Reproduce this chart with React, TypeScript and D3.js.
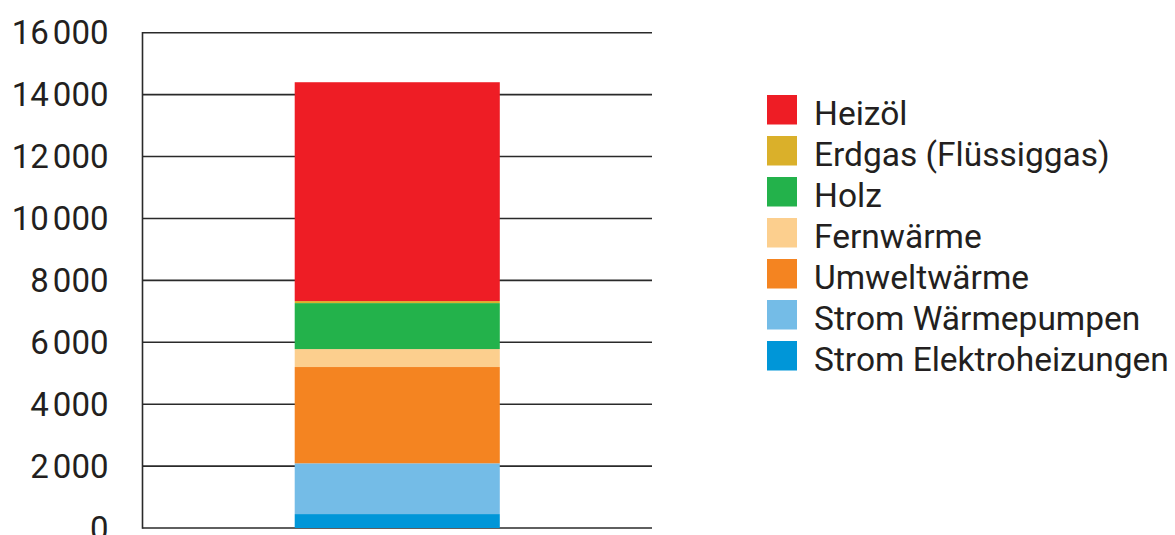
import { useRef, useEffect } from "react";
import * as d3 from "d3";

// one stacked bar, bottom -> top
const categories = ["Total"];
const seriesNames = [
  "Strom Elektroheizungen",
  "Strom Wärmepumpen",
  "Umweltwärme",
  "Fernwärme",
  "Holz",
  "Erdgas (Flüssiggas)",
  "Heizöl",
];
const seriesValues = [450, 1640, 3110, 580, 1485, 65, 7070];
const seriesColors = [
  "#0096d8",
  "#74bce7",
  "#f48421",
  "#fccf8e",
  "#23b24b",
  "#dab02a",
  "#ee1d25",
];
// legend runs top -> bottom
const legendOrder = [
  "Heizöl",
  "Erdgas (Flüssiggas)",
  "Holz",
  "Fernwärme",
  "Umweltwärme",
  "Strom Wärmepumpen",
  "Strom Elektroheizungen",
];
const yTicks = [0, 2000, 4000, 6000, 8000, 10000, 12000, 14000, 16000];

export default function App() {
  const svgRef = useRef<SVGSVGElement>(null);

  useEffect(() => {
    if (!svgRef.current) return;
    const svg = d3.select(svgRef.current);
    svg.selectAll("*").remove();

    const width = 1175;
    const height = 535;
    const left = 142.5;
    const right = 652;
    const top = 32.7;
    const bottom = 528;
    const font = "Roboto, sans-serif";
    const textColor = "#231f20";

    const y = d3.scaleLinear().domain([0, 16000]).range([bottom, top]);
    const x = d3
      .scaleBand()
      .domain(categories)
      .range([left, right])
      .padding(0.426);

    // Grid lines
    svg
      .append("g")
      .selectAll("line")
      .data(yTicks)
      .join("line")
      .attr("x1", left)
      .attr("x2", right)
      .attr("y1", (d) => y(d))
      .attr("y2", (d) => y(d))
      .attr("stroke", "#2a2a2a")
      .attr("stroke-width", 1.6);

    // vertical axis
    svg
      .append("line")
      .attr("x1", left)
      .attr("x2", left)
      .attr("y1", y(16000) - 0.8)
      .attr("y2", y(0) + 0.8)
      .attr("stroke", "#2a2a2a")
      .attr("stroke-width", 1.6);

    // Tick labels (thin gap between thousands); "0" sits on the bottom edge like the original
    const labels = svg
      .append("g")
      .selectAll("text")
      .data(yTicks)
      .join("text")
      .attr("x", 108.5)
      .attr("y", (d) => y(d) + 11.5)
      .attr("text-anchor", "end")
      .style("font-family", font)
      .style("font-size", "33px")
      .style("fill", textColor);
    labels.each(function (d) {
      const t = d3.select(this);
      if (d >= 1000) {
        t.append("tspan").text(String(Math.floor(d / 1000)));
        t.append("tspan").attr("dx", 4).text("000");
      } else {
        t.text(String(d));
      }
    });

    // Stacked bar
    const row: Record<string, number> = {};
    seriesNames.forEach((n, i) => (row[n] = seriesValues[i]));
    const stacked = d3.stack<Record<string, number>>().keys(seriesNames)([row]);

    svg
      .append("g")
      .selectAll("rect")
      .data(stacked)
      .join("rect")
      .attr("x", x(categories[0]) ?? 0)
      .attr("width", x.bandwidth())
      .attr("y", (s) => y(s[0][1]))
      .attr("height", (s) => y(s[0][0]) - y(s[0][1]))
      .attr("fill", (s, i) => seriesColors[i]);

    // Legend
    const leg = svg.append("g").attr("transform", "translate(767,95)");
    const items = leg
      .selectAll("g")
      .data(legendOrder)
      .join("g")
      .attr("transform", (d, i) => `translate(0,${i * 41})`);
    items
      .append("rect")
      .attr("width", 30)
      .attr("height", 29.5)
      .attr("fill", (d) => seriesColors[seriesNames.indexOf(d)]);
    items
      .append("text")
      .attr("x", 47)
      .attr("y", 30)
      .style("font-family", font)
      .style("font-size", "33.5px")
      .style("fill", textColor)
      .text((d) => d);

    svg.attr("width", width).attr("height", height);
    return () => {
      svg.selectAll("*").remove();
    };
  }, []);

  return (
    <div style={{ position: "absolute", left: 0, top: 0 }}>
      <svg ref={svgRef} width={1175} height={535} style={{ display: "block" }} />
    </div>
  );
}
